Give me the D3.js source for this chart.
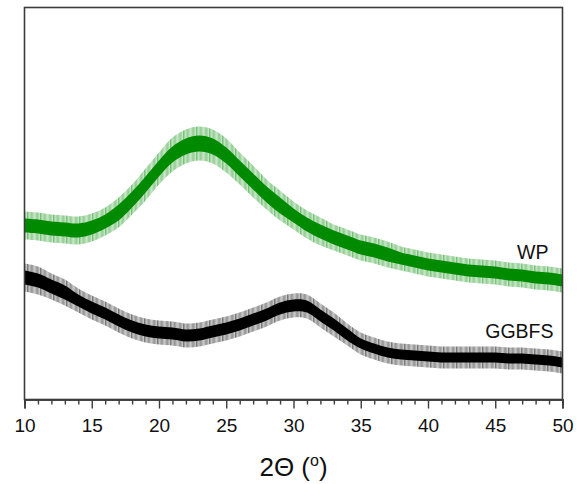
<!DOCTYPE html>
<html>
<head>
<meta charset="utf-8">
<script src="https://cdn.jsdelivr.net/npm/d3@7"></script>
<style>
  html, body { margin: 0; padding: 0; background: #fff; }
  svg { display: block; font-family: Arial, "Liberation Sans", sans-serif; }
</style>
</head>
<body>
<svg id="chart" width="583" height="484"></svg>
<script>
// XRD patterns, 2θ in degrees, intensity in arbitrary units
const twoTheta = d3.range(10, 51, 1);

// WP: broad amorphous hump centred near 23°
const wpIntensity = [174, 173, 171, 170, 169, 172, 178, 187, 200, 215, 231, 245, 253, 256, 253, 244, 231, 218, 205, 194,
                     184, 175, 168, 162, 157, 152, 149, 145, 141, 138, 135, 133, 131, 129, 128, 127, 125, 124, 122, 121, 119];
// counting-noise half-width of the WP trace (dense core / outer spikes)
const wpNoiseCore  = [7, 7, 7, 7, 7, 7, 7, 8, 8, 8, 8, 8, 8, 8, 8, 8, 8, 8, 8, 8,
                      7, 7, 7, 7, 7, 7, 7, 7, 6, 6, 6, 6, 6, 6, 6, 6, 6, 6, 6, 6, 6];
const wpNoiseSpike = [14, 14, 14, 14, 14, 14, 14, 15, 15, 16, 16, 17, 17, 17, 17, 17, 16, 16, 15, 15,
                      14, 14, 14, 13, 13, 13, 13, 13, 12, 12, 12, 12, 12, 12, 12, 12, 12, 12, 12, 12, 12];

// GGBFS: decaying background with a glassy hump near 30.5°
const ggbfsIntensity = [122, 119, 113, 107, 99, 92, 86, 79, 73, 69, 67, 66, 64, 65, 68, 71, 75, 80, 85, 91,
                        94, 93, 84, 75, 65, 56, 51, 47, 45, 44, 43, 42, 42, 42, 42, 42, 41, 41, 40, 39, 37];
const ggbfsNoiseCore  = [7, 7, 7, 7, 6, 6, 6, 6, 6, 6, 6, 6, 6, 6, 6, 6, 6, 6, 6, 6,
                         6, 6, 6, 6, 6, 5, 5, 5, 5, 5, 5, 5, 5, 5, 5, 5, 5, 5, 5, 5, 5];
const ggbfsNoiseSpike = [14, 14, 13, 13, 12, 12, 12, 12, 12, 12, 12, 12, 12, 12, 12, 12, 12, 12, 12, 12,
                         12, 12, 12, 12, 11, 11, 11, 11, 11, 11, 11, 11, 11, 11, 11, 11, 11, 11, 11, 11, 11];

const xTicksMajor = [10, 15, 20, 25, 30, 35, 40, 45, 50];
const xTicksMinor = d3.range(10, 51, 1);
const seriesLabels = ["WP", "GGBFS"];

const margin = { top: 7.5, right: 20.5, bottom: 84.5, left: 24.5 };
const W = 583, H = 484;
const innerW = W - margin.left - margin.right;
const innerH = H - margin.top - margin.bottom;

const svg = d3.select("#chart");
const defs = svg.append("defs");
const g = svg.append("g").attr("transform", `translate(${margin.left},${margin.top})`);

const x = d3.scaleLinear().domain([10, 50]).range([0, innerW]);
const y = d3.scaleLinear().domain([0, 392]).range([innerH, 0]);

function makeSeries(values, core, spike) {
  return twoTheta.map((t, i) => ({ t, v: values[i], c: core[i], s: spike[i] }));
}

const series = [
  { name: "WP", color: "#008a00", data: makeSeries(wpIntensity, wpNoiseCore, wpNoiseSpike) },
  { name: "GGBFS", color: "#000000", data: makeSeries(ggbfsIntensity, ggbfsNoiseCore, ggbfsNoiseSpike) }
];

// streaky vertical texture for the spiky fringe of each trace
const streakOpacity = [0.55, 0.1, 0.35, 0.7, 0.05, 0.45, 0.2, 0.6, 0.15, 0.4, 0.05, 0.5, 0.25];
series.forEach((s, i) => {
  const p = defs.append("pattern")
    .attr("id", "fringe" + i)
    .attr("patternUnits", "userSpaceOnUse")
    .attr("width", streakOpacity.length).attr("height", 10);
  streakOpacity.forEach((o, k) => {
    p.append("rect").attr("x", k).attr("y", 0).attr("width", 1).attr("height", 10)
      .attr("fill", s.color).attr("opacity", o);
  });
});

const plot = g.append("g");
series.forEach((s, i) => {
  const spikeArea = d3.area()
    .x(d => x(d.t))
    .y0(d => y(d.v - d.s))
    .y1(d => y(d.v + d.s))
    .curve(d3.curveCatmullRom);
  const coreArea = d3.area()
    .x(d => x(d.t))
    .y0(d => y(d.v - d.c))
    .y1(d => y(d.v + d.c))
    .curve(d3.curveCatmullRom);
  plot.append("path").datum(s.data)
    .attr("d", spikeArea)
    .attr("fill", `url(#fringe${i})`);
  plot.append("path").datum(s.data)
    .attr("d", coreArea)
    .attr("fill", s.color);
});

// frame
const frameColor = "#3c3c3c";
g.append("rect")
  .attr("x", 0).attr("y", 0)
  .attr("width", innerW).attr("height", innerH)
  .attr("fill", "none")
  .attr("stroke", frameColor)
  .attr("stroke-width", 1.6);

// bottom axis: major ticks with labels, minor ticks every degree
const axisMinor = d3.axisBottom(x)
  .tickValues(xTicksMinor.filter(v => !xTicksMajor.includes(v)))
  .tickSize(5).tickFormat("");
const axisMajor = d3.axisBottom(x)
  .tickValues(xTicksMajor)
  .tickSize(9).tickPadding(10)
  .tickFormat(d3.format("d"));

const gMinor = g.append("g").attr("transform", `translate(0,${innerH})`).call(axisMinor);
const gMajor = g.append("g").attr("transform", `translate(0,${innerH})`).call(axisMajor);
[gMinor, gMajor].forEach(a => {
  a.select(".domain").attr("stroke", frameColor).attr("stroke-width", 1.6);
  a.selectAll(".tick line").attr("stroke", frameColor).attr("stroke-width", 1.4);
});
gMajor.selectAll(".tick text")
  .attr("font-size", 19)
  .attr("font-family", "Arial, 'Liberation Sans', sans-serif")
  .attr("fill", "#111");

// series labels
const labelPos = [
  { t: 50, v: wpIntensity[wpIntensity.length - 1], dx: -14, dy: -22 },
  { t: 50, v: ggbfsIntensity[ggbfsIntensity.length - 1], dx: -9, dy: -25 }
];
seriesLabels.forEach((name, i) => {
  g.append("text")
    .attr("x", x(labelPos[i].t) + labelPos[i].dx)
    .attr("y", y(labelPos[i].v) + labelPos[i].dy)
    .attr("text-anchor", "end")
    .attr("font-size", 19.5)
    .attr("fill", "#111")
    .text(name);
});

// x axis title
const title = svg.append("text")
  .attr("x", margin.left + innerW / 2)
  .attr("y", 476)
  .attr("text-anchor", "middle")
  .attr("font-size", 26)
  .attr("fill", "#111");
title.append("tspan").text("2Θ (");
title.append("tspan").attr("font-size", 16).attr("dy", -10).text("o");
title.append("tspan").attr("dy", 10).text(")");
</script>
</body>
</html>
